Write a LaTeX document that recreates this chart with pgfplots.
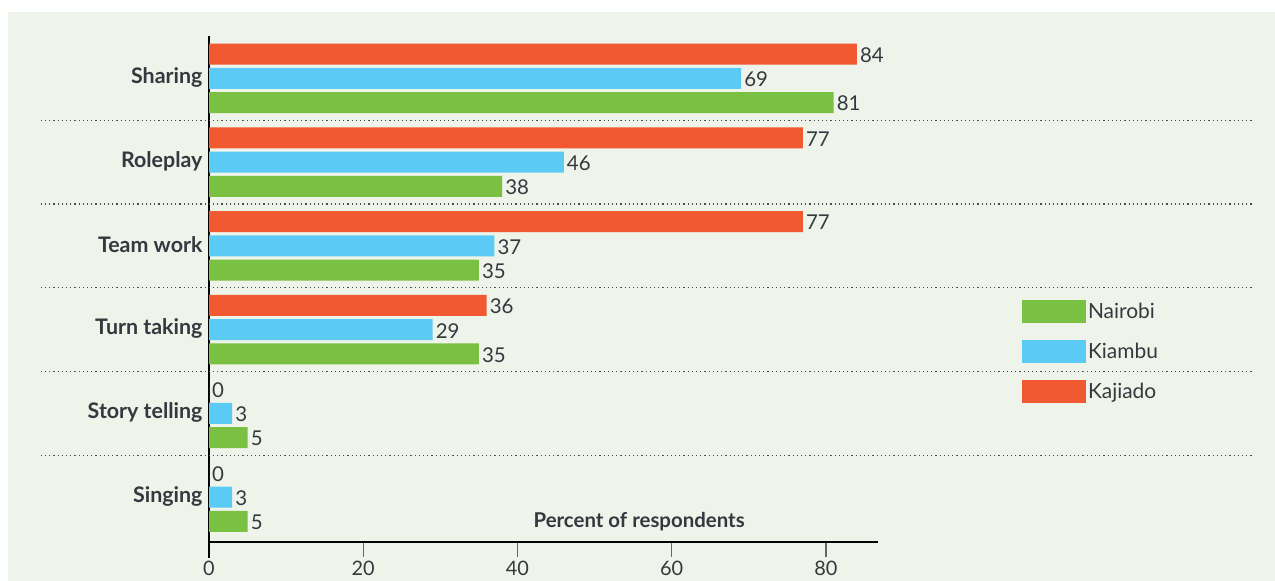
\documentclass[border=0pt]{standalone}
\usepackage{pgfplots}
\pgfplotsset{compat=1.18}
\usepackage{fontspec}
\setmainfont{Lato}
\definecolor{bg}{HTML}{EEF4E9}
\definecolor{kaj}{HTML}{F15A31}
\definecolor{kia}{HTML}{5BCBF6}
\definecolor{nai}{HTML}{7AC143}
\definecolor{txt}{HTML}{33393F}
\begin{document}
\begin{tikzpicture}
\useasboundingbox (0bp,0bp) rectangle (1275bp,-581bp);
\fill[white] (0bp,0bp) rectangle (1275bp,-581bp);
\fill[bg] (8bp,-12bp) rectangle (1275bp,-581bp);
\begin{scope}
\clip (0bp,0bp) rectangle (1275bp,-581bp);
\begin{axis}[
  at={(209bp,-542bp)}, anchor=south west,
  scale only axis, width=669bp, height=506bp,
  xmin=0, xmax=86.75, ymin=-0.536, ymax=5.506,
  clip=false,
  axis x line*=bottom, axis y line*=left,
  axis line style={line width=1.2bp, black, -},
  xbar, bar width=0.25,
  xtick={0,20,40,60,80},
  ytick={0,1,2,3,4,5},
  yticklabels={Singing,Story telling,Turn taking,Team work,Roleplay,Sharing},
  tick align=outside, major tick length=15bp,
  xtick style={draw=black!60, line width=1.2bp},
  ytick style={draw=none},
  /pgf/number format/assume math mode=true,
  xticklabel style={font=\fontsize{20}{24}\selectfont, text=txt, yshift=-1bp},
  yticklabel style={font=\fontsize{21.5}{25}\selectfont\bfseries, text=txt, xshift=12bp, yshift=1bp},
  xlabel={Percent of respondents},
  xlabel style={at={(rel axis cs:0.643,0.0395)}, anchor=center, font=\fontsize{20.5}{24}\selectfont\bfseries, text=txt},
  nodes near coords,
  nodes near coords align={horizontal},
  every node near coord/.append style={font=\fontsize{20.5}{24}\selectfont, text=txt, anchor=west, inner sep=3bp, yshift=-1bp},
  legend entries={Nairobi,Kiambu,Kajiado},
  legend cell align=left,
  legend image code/.code={\fill[#1] (0bp,-11.5bp) rectangle (64bp,11.5bp);},
  legend style={at={(rel axis cs:1.215,0.478)}, anchor=north west, draw=none, fill=none,
    inner sep=0pt, row sep=17bp, font=\fontsize{21}{25}\selectfont, text=txt},
]
\addplot[fill=nai, draw=none, bar shift=-0.29] coordinates {(81,5) (38,4) (35,3) (35,2) (5,1) (5,0)};
\addplot[fill=kia, draw=none, bar shift=0] coordinates {(69,5) (46,4) (37,3) (29,2) (3,1) (3,0)};
\addplot[fill=kaj, draw=none, bar shift=0.29] coordinates {(84,5) (77,4) (77,3) (36,2) (0,1) (0,0)};
\draw[black!70, line width=1.2bp, dash pattern=on 1.2bp off 3bp] (axis cs:-21.8,4.5) -- (axis cs:135.5,4.5);
\draw[black!70, line width=1.2bp, dash pattern=on 1.2bp off 3bp] (axis cs:-21.8,3.5) -- (axis cs:135.5,3.5);
\draw[black!70, line width=1.2bp, dash pattern=on 1.2bp off 3bp] (axis cs:-21.8,2.5) -- (axis cs:135.5,2.5);
\draw[black!70, line width=1.2bp, dash pattern=on 1.2bp off 3bp] (axis cs:-21.8,1.5) -- (axis cs:135.5,1.5);
\draw[black!70, line width=1.2bp, dash pattern=on 1.2bp off 3bp] (axis cs:-21.8,0.5) -- (axis cs:135.5,0.5);
\draw[black, line width=1.2bp] (axis cs:0,-0.536) -- ++(0bp,-16bp);
\end{axis}
\end{scope}
\end{tikzpicture}
\end{document}
